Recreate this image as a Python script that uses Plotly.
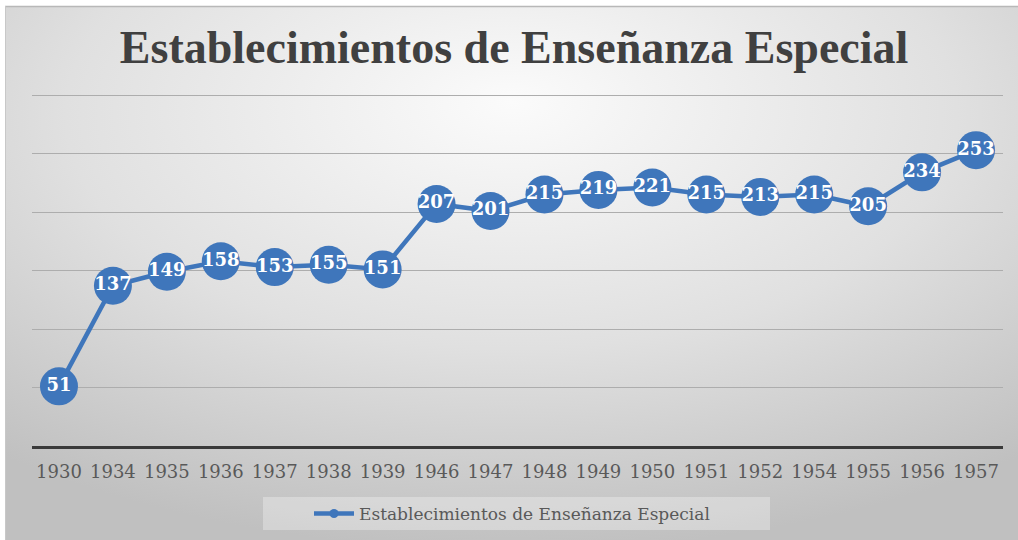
import base64
import plotly.graph_objects as go

years = ["1930", "1934", "1935", "1936", "1937", "1938", "1939", "1946", "1947",
         "1948", "1949", "1950", "1951", "1952", "1954", "1955", "1956", "1957"]
values = [51, 137, 149, 158, 153, 155, 151, 207, 201,
          215, 219, 221, 215, 213, 215, 205, 234, 253]
series_name = "Establecimientos de Enseñanza Especial"
title_text = "Establecimientos de Enseñanza Especial"

W, H = 1018, 540
L, R, T, B = 32, 15, 94, 94
pw, ph = W - L - R, H - T - B

BLUE = "#3f76bb"

svg = """<svg xmlns='http://www.w3.org/2000/svg' width='1013' height='534' preserveAspectRatio='none'>
<defs><radialGradient id='g' cx='0.5' cy='0.22' r='0.8' fx='0.5' fy='0.18'>
<stop offset='0' stop-color='#fbfbfb'/><stop offset='0.55' stop-color='#e0e0e0'/>
<stop offset='1' stop-color='#c0c0c0'/></radialGradient></defs>
<rect width='1013' height='534' fill='url(#g)'/></svg>"""
src = "data:image/svg+xml;base64," + base64.b64encode(svg.encode()).decode()

def px_x(x):
    return (x - L) / pw

def px_y(y):
    return (H - B - y) / ph

fig = go.Figure()
fig.add_trace(go.Scatter(
    x=years, y=values, mode="lines+markers+text",
    text=[str(v) for v in values], textposition="middle center",
    textfont=dict(family="DejaVu Serif", size=18, color="white", weight="bold"),
    line=dict(color=BLUE, width=4.5),
    marker=dict(color=BLUE, size=38),
    showlegend=False, cliponaxis=False, name=series_name,
))
fig.add_trace(go.Scatter(
    x=[None], y=[None], mode="lines+markers", name=series_name,
    line=dict(color=BLUE, width=4.5), marker=dict(color=BLUE, size=9),
    showlegend=True,
))

fig.add_layout_image(dict(
    source=src, xref="paper", yref="paper",
    x=px_x(5), y=px_y(6), sizex=(W - 5) / pw, sizey=(H - 6) / ph,
    xanchor="left", yanchor="top", sizing="stretch", layer="below",
))
# top and left frame lines
fig.add_shape(type="line", xref="paper", yref="paper",
              x0=px_x(5), x1=px_x(W), y0=px_y(6.5), y1=px_y(6.5),
              line=dict(color="#b8b8b8", width=1.5), layer="below")
fig.add_shape(type="line", xref="paper", yref="paper",
              x0=px_x(5.5), x1=px_x(5.5), y0=px_y(6), y1=px_y(H),
              line=dict(color="#c8c8c8", width=1), layer="below")
# legend background box
fig.add_shape(type="rect", xref="paper", yref="paper",
              x0=px_x(263), x1=px_x(770), y0=px_y(530), y1=px_y(497),
              line=dict(width=0), fillcolor="rgba(255,255,255,0.3)", layer="below")

fig.update_layout(
    width=W, height=H,
    margin=dict(l=L, r=R, t=T, b=B, autoexpand=False),
    paper_bgcolor="white", plot_bgcolor="rgba(0,0,0,0)",
    title=dict(text=title_text, x=0.505, xanchor="center", y=1 - 47 / H, yanchor="middle",
               font=dict(family="Liberation Serif", size=46, color="#404040", weight="bold")),
    xaxis=dict(type="category", showgrid=False, showline=True, linecolor="#3a3a3a", linewidth=3,
               ticks="outside", ticklen=7, tickcolor="rgba(0,0,0,0)",
               tickfont=dict(family="DejaVu Serif", size=18, color="#595959"),
               range=[-0.5, len(years) - 0.5], fixedrange=True),
    yaxis=dict(range=[0, 301], tick0=0, dtick=50, showgrid=True, gridcolor="#adadad", gridwidth=1,
               showticklabels=False, zeroline=False, showline=False, fixedrange=True),
    legend=dict(orientation="h", xref="container", yref="container",
                x=512 / W, xanchor="center", y=1 - 514 / H, yanchor="middle",
                bgcolor="rgba(0,0,0,0)", borderwidth=0,
                font=dict(family="DejaVu Serif", size=17, color="#595959"),
                itemwidth=40),
)

fig.write_html("out.html", config={"displayModeBar": False},
               post_script="document.body.style.margin='0px';document.body.style.overflow='hidden';")
